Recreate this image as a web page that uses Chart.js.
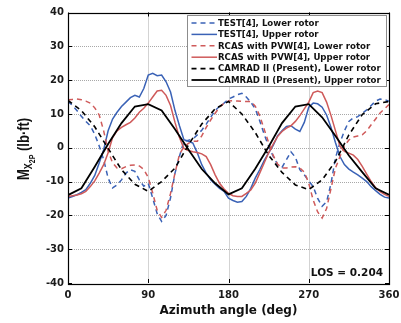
<!DOCTYPE html>
<html>
<head>
<meta charset="utf-8">
<script src="https://cdn.jsdelivr.net/npm/chart.js@4/dist/chart.umd.min.js"></script>
<style>
html,body{margin:0;padding:0;background:#fff;}
#wrap{width:401px;height:323px;position:relative;}
</style>
</head>
<body>
<div id="wrap"><canvas id="c" width="401" height="323"></canvas></div>
<script>
// ---- data ----
const azimuthFine = [0,5,10,15,20,25,30,35,40,45,50,55,60,65,70,75,80,85,90,95,100,105,110,115,120,125,130,135,140,145,150,155,160,165,170,175,180,185,190,195,200,205,210,215,220,225,230,235,240,245,250,255,260,265,270,275,280,285,290,295,300,305,310,315,320,325,330,335,340,345,350,355,360];
const azimuthCoarse = [0,15,30,45,60,75,90,105,120,135,150,165,180,195,210,225,240,255,270,285,300,315,330,345,360];

const testLower = [13.7,12.5,11,9.3,7.8,6.5,4,0.5,-3.5,-9,-11.9,-11,-9.5,-7.5,-6.5,-7,-9.5,-11.4,-10.5,-14.9,-19.5,-21.8,-20,-14.8,-7.5,-2.5,1.9,2.2,2.6,3.8,5.2,7,9,11,12.3,13.2,14.4,15,15.7,16.1,15,13.5,11.5,8,4,0.5,-2.5,-5,-5.8,-3.5,-1.2,-2.8,-6.5,-8,-9.8,-11.5,-15,-17.3,-16,-10.5,-3,1.5,5,7.8,8.8,9.2,10.2,11.2,12.5,13.8,14.4,14.3,13.7];
const testUpper = [-14.9,-14.4,-13.9,-13.2,-12.4,-10.5,-8.2,-4.5,-0.6,5,8.5,10.5,12.2,13.5,14.8,15.5,15,17.5,21.5,22,21.3,21.5,19.5,16.5,11,6.5,2.4,1.9,1.4,-1.5,-5,-7.5,-9.5,-10.8,-12,-12.9,-14.9,-15.6,-16.1,-15.9,-14.4,-12,-9,-6.5,-3.8,-1.5,0.6,3.5,5,6.3,6.5,5.5,4.8,7.5,12,13.2,13,12,9.7,6,1.5,-2.6,-5,-6.3,-7.2,-8,-9,-10,-11.5,-12.7,-13.8,-14.6,-14.9];
const rcasLower = [14.2,14.3,14.4,14.2,13.8,13.2,11.8,9.7,5,-1,-4.5,-6,-6.2,-5.6,-5.2,-5.1,-5.4,-6.4,-8.8,-13.4,-18.5,-20.6,-18.5,-13.5,-7.5,-2,0.3,1.3,1.9,1.9,3.5,6,8.2,10.2,12,13.2,13.8,13.9,13.8,13.7,13.7,13.7,12.3,9.5,5.5,1.5,-2.2,-4.8,-6,-6,-5.7,-5.6,-6,-7.2,-10.5,-15.5,-19,-20.8,-18,-12,-6,-2.6,0.5,2.3,3.2,3.5,3.8,5,6.8,8.5,10.3,11.5,12.8];
const rcasUpper = [-14.4,-14.2,-14,-13.6,-12.9,-11.5,-9.8,-7.5,-5,-1.5,3,5,6,6.8,7.5,8.8,10.5,11.7,13.2,15,16.8,17,15.5,12.5,7.5,3,-0.2,-0.8,-1.2,-1.4,-1.8,-2.6,-5,-8,-10.5,-12.2,-13.5,-14.2,-14.4,-14.4,-13.5,-12.5,-10.5,-7.5,-4.5,-1.5,1,3.3,4.8,5.8,6.5,7.8,9.5,11.5,13.5,16.3,16.8,16.3,13.5,9.5,5,0.5,-1.1,-1.6,-2.2,-3.5,-5.5,-7.8,-10,-11.8,-13,-13.8,-14.4];
const camradLower = [14,11,6.2,-0.2,-6.5,-10.8,-12.9,-10,-6,0.8,7,11.5,13.7,10,4.5,-2.2,-7.3,-11,-12.4,-9.5,-4,3.8,9.8,13,13.7];
const camradUpper = [-14,-12,-5.6,1.1,7.3,12.2,12.9,11,5.5,-0.5,-6.3,-10.5,-13.8,-12,-6.2,0.3,7.3,12.2,12.9,9,3.5,-2.3,-7.2,-12,-13.9];

const seriesLabels = ["TEST[4], Lower rotor","TEST[4], Upper rotor","RCAS with PVW[4], Lower rotor","RCAS with PVW[4], Upper rotor","CAMRAD II (Present), Lower rotor","CAMRAD II (Present), Upper rotor"];
const xTicks = [0,90,180,270,360];
const yTicks = [-40,-30,-20,-10,0,10,20,30,40];
const losText = "LOS = 0.204";

// ---- build chart ----
const BLUE = '#3a62b6', RED = '#cf5a5a', BLACK = '#000000';
const pts = (xs, ys) => xs.map((x, i) => ({x: x, y: ys[i]}));
const DASH = [5, 4];

const datasets = [
  {label: seriesLabels[0], data: pts(azimuthFine, testLower), borderColor: BLUE, borderWidth: 1.5, borderDash: DASH, order: 6},
  {label: seriesLabels[1], data: pts(azimuthFine, testUpper), borderColor: BLUE, borderWidth: 1.5, order: 5},
  {label: seriesLabels[2], data: pts(azimuthFine, rcasLower), borderColor: RED, borderWidth: 1.5, borderDash: DASH, order: 4},
  {label: seriesLabels[3], data: pts(azimuthFine, rcasUpper), borderColor: RED, borderWidth: 1.5, order: 3},
  {label: seriesLabels[4], data: pts(azimuthCoarse, camradLower), borderColor: BLACK, borderWidth: 1.6, borderDash: DASH, order: 2},
  {label: seriesLabels[5], data: pts(azimuthCoarse, camradUpper), borderColor: BLACK, borderWidth: 1.8, order: 1}
];
datasets.forEach(d => { d.pointRadius = 0; d.tension = 0; d.fill = false; });

const TICK_FONT = {family: 'DejaVu Sans', weight: 'bold', size: 10};

const decor = {
  id: 'decor',
  beforeDatasetsDraw(chart) {
    const {ctx, chartArea: a, scales: {x, y}} = chart;
    ctx.save();
    ctx.strokeStyle = '#a8a8a8';
    ctx.lineWidth = 1;
    ctx.setLineDash([1, 1]);
    xTicks.forEach(v => {
      const px = Math.round(x.getPixelForValue(v)) + 0.5;
      if (v === xTicks[0] || v === xTicks[xTicks.length-1]) return;
      ctx.beginPath(); ctx.moveTo(px, a.top); ctx.lineTo(px, a.bottom); ctx.stroke();
    });
    yTicks.forEach(v => {
      const py = Math.round(y.getPixelForValue(v)) + 0.5;
      if (v === yTicks[0] || v === yTicks[yTicks.length-1]) return;
      ctx.beginPath(); ctx.moveTo(a.left, py); ctx.lineTo(a.right, py); ctx.stroke();
    });
    ctx.restore();
  },
  afterDatasetsDraw(chart) {
    const {ctx, chartArea: a, scales: {x, y}} = chart;
    ctx.save();
    // frame
    ctx.strokeStyle = '#000'; ctx.lineWidth = 1.2; ctx.setLineDash([]);
    ctx.strokeRect(Math.round(a.left)+0.5, Math.round(a.top)+0.5, Math.round(a.right-a.left), Math.round(a.bottom-a.top));
    // inward tick marks
    ctx.lineWidth = 1;
    const tl = 4;
    xTicks.forEach(v => {
      const px = Math.round(x.getPixelForValue(v)) + 0.5;
      ctx.beginPath(); ctx.moveTo(px, a.bottom); ctx.lineTo(px, a.bottom - tl); ctx.stroke();
      ctx.beginPath(); ctx.moveTo(px, a.top); ctx.lineTo(px, a.top + tl); ctx.stroke();
    });
    yTicks.forEach(v => {
      const py = Math.round(y.getPixelForValue(v)) + 0.5;
      ctx.beginPath(); ctx.moveTo(a.left, py); ctx.lineTo(a.left + tl, py); ctx.stroke();
      ctx.beginPath(); ctx.moveTo(a.right, py); ctx.lineTo(a.right - tl, py); ctx.stroke();
    });

    // legend
    const lx = 187, ly = 15, lw = 199, lh = 71;
    ctx.fillStyle = '#fff';
    ctx.fillRect(lx, ly, lw, lh);
    ctx.strokeStyle = '#8c8c8c'; ctx.lineWidth = 1;
    ctx.strokeRect(lx + 0.5, ly + 0.5, lw, lh);
    ctx.font = 'bold 8.6px "DejaVu Sans"';
    ctx.textBaseline = 'middle';
    ctx.textAlign = 'left';
    chart.data.datasets.forEach((d, i) => {
      const ry = 23 + i * 11.4;
      ctx.strokeStyle = d.borderColor;
      ctx.lineWidth = d.borderWidth;
      ctx.setLineDash(d.borderDash || []);
      ctx.beginPath(); ctx.moveTo(191.5, ry); ctx.lineTo(217, ry); ctx.stroke();
      ctx.setLineDash([]);
      ctx.fillStyle = '#111';
      ctx.fillText(d.label, 218, ry + 0.5);
    });

    // LOS annotation
    ctx.font = 'bold 10.5px "DejaVu Sans"';
    ctx.textAlign = 'right';
    ctx.fillStyle = '#111';
    ctx.fillText(losText, 383, 273);

    // x title
    ctx.font = 'bold 12px "DejaVu Sans"';
    ctx.textAlign = 'center';
    ctx.fillText('Azimuth angle (deg)', (a.left + a.right) / 2, 311);

    // y title (rotated, with subscripts)
    ctx.translate(28.5, 180);
    ctx.rotate(-Math.PI / 2);
    ctx.scale(1, 1.2);
    ctx.textAlign = 'left';
    ctx.textBaseline = 'alphabetic';
    let cx = 0;
    ctx.font = 'bold 13px "Liberation Sans"';
    ctx.fillText('M', cx, 0); cx += ctx.measureText('M').width;
    ctx.font = 'bold 9px "Liberation Sans"';
    ctx.fillText('X', cx, 3); cx += ctx.measureText('X').width;
    ctx.font = 'bold 7px "Liberation Sans"';
    ctx.fillText('2P', cx, 5.5); cx += ctx.measureText('2P').width;
    ctx.font = 'bold 13px "Liberation Sans"';
    ctx.fillText(' (lb\u00b7ft)', cx, 0);
    ctx.restore();
  }
};

new Chart(document.getElementById('c'), {
  type: 'line',
  data: {datasets: datasets},
  options: {
    responsive: false,
    animation: false,
    events: [],
    layout: {padding: {top: 12.5, right: 12, left: 0, bottom: 0}},
    plugins: {legend: {display: false}, tooltip: {enabled: false}},
    scales: {
      x: {
        type: 'linear', min: 0, max: 360,
        afterFit: s => { s.height = 40; s.paddingLeft = 0; s.paddingRight = 0; },
        afterBuildTicks: s => { s.ticks = xTicks.map(v => ({value: v})); },
        grid: {display: false, drawTicks: false},
        border: {display: false},
        ticks: {font: TICK_FONT, color: '#1a1a1a', padding: 6, maxRotation: 0, autoSkip: false}
      },
      y: {
        type: 'linear', min: -40, max: 40,
        afterFit: s => { s.width = 68; s.paddingTop = 0; s.paddingBottom = 0; },
        afterBuildTicks: s => { s.ticks = yTicks.map(v => ({value: v})); },
        grid: {display: false, drawTicks: false},
        border: {display: false},
        ticks: {font: TICK_FONT, color: '#1a1a1a', padding: 4, autoSkip: false}
      }
    }
  },
  plugins: [decor]
});
</script>
</body>
</html>
